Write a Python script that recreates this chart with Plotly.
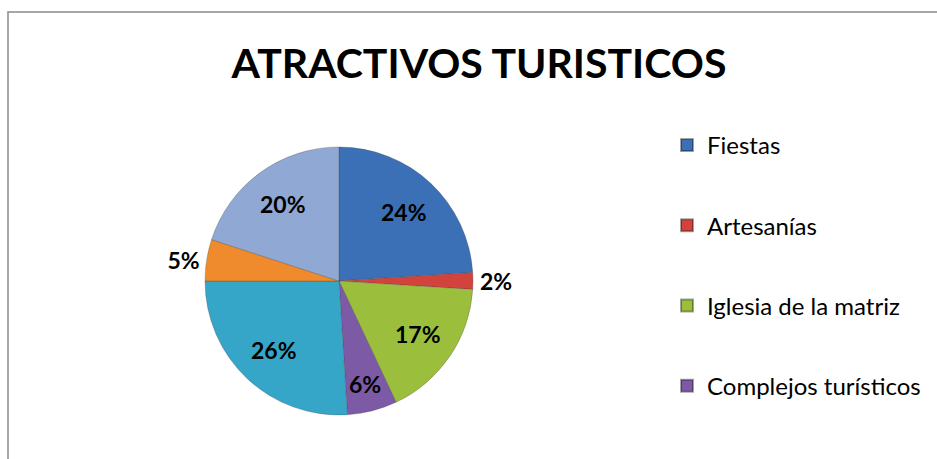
import math
import plotly.graph_objects as go

# Share of each tourist attraction (percent)
categories = ["Fiestas", "Artesanías", "Iglesia de la matriz", "Complejos turísticos",
              "Gastronomía", "Miradores", "Ríos y cascadas"]
values = [24, 2, 17, 6, 26, 5, 20]
colors = ["#3b70b6", "#d2433e", "#9bbf3c", "#7c5aa6", "#36a6c8", "#ef8b2c", "#8fa8d4"]
outside_label = [False, True, False, False, False, True, False]
legend_count = 4  # entries listed beside the pie

W, H = 937, 459
font_family = "Lato, 'Open Sans', sans-serif"
label_font = dict(family=font_family, size=23, color="black")

fig = go.Figure()

# Pie domain: centre (339, 281) px, radius 134 px
cx, cy, r = 339, 281, 134
fig.add_trace(go.Pie(
    labels=categories,
    values=values,
    sort=False,
    direction="clockwise",
    rotation=0,
    marker=dict(colors=colors, line=dict(color="rgba(60,60,60,0.35)", width=0.8)),
    texttemplate="<b>%{value}%</b>",
    textposition=["outside" if o else "none" for o in outside_label],
    textfont=label_font,
    outsidetextfont=label_font,
    domain=dict(x=[(cx - r) / W, (cx + r) / W], y=[(H - cy - r) / H, (H - cy + r) / H]),
    showlegend=False,
    hoverinfo="label+percent",
    automargin=False,
))

# Inside labels placed along each slice's mid-angle (narrow slices sit further out)
total = sum(values)
cum = 0
for v, o in zip(values, outside_label):
    mid = (cum + v / 2) / total * 2 * math.pi
    cum += v
    if o:
        continue
    d = (0.71 if v >= 10 else 0.79) * r
    px = cx + d * math.sin(mid)
    py = cy - d * math.cos(mid)
    fig.add_annotation(
        x=px / W, y=1 - py / H, xref="paper", yref="paper",
        text=f"<b>{v}%</b>", showarrow=False,
        xanchor="center", yanchor="middle", font=label_font,
    )

# Legend entries for the first categories
for i in range(legend_count):
    fig.add_trace(go.Scatter(
        x=[None], y=[None], mode="markers",
        name=categories[i],
        legendgroup=categories[i],
        marker=dict(symbol="square", size=13, color=colors[i],
                    line=dict(color="rgba(0,0,0,0.35)", width=0.5)),
        showlegend=True,
    ))

fig.update_layout(
    width=W, height=H,
    margin=dict(l=0, r=0, t=0, b=0),
    paper_bgcolor="white",
    plot_bgcolor="white",
    font=dict(family=font_family, color="black"),
    title=dict(
        text="<b>ATRACTIVOS TURISTICOS</b>",
        x=479 / W, xanchor="center",
        y=1 - 64 / H, yanchor="middle",
        font=dict(family=font_family, size=41, color="black"),
    ),
    xaxis=dict(visible=False),
    yaxis=dict(visible=False),
    legend=dict(
        x=667 / W, xanchor="left",
        y=1 - 123 / H, yanchor="top",
        font=dict(family=font_family, size=24, color="black"),
        tracegroupgap=46,
        itemsizing="constant",
        bgcolor="rgba(0,0,0,0)",
    ),
    shapes=[dict(
        type="rect", xref="paper", yref="paper",
        x0=8 / W, x1=1.05, y0=-0.05, y1=1 - 12 / H,
        line=dict(color="#8a8a8a", width=1.5),
        layer="below",
    )],
)

fig.write_html("out.html")
